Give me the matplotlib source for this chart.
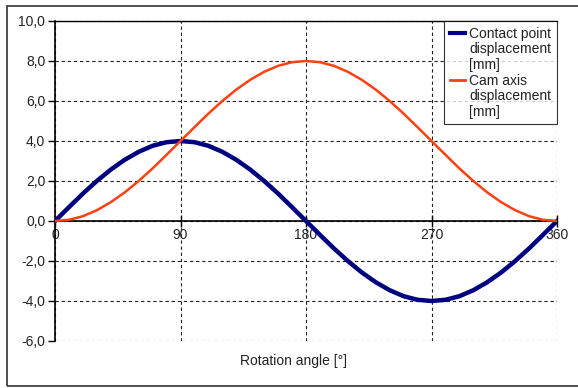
import matplotlib.pyplot as plt
import matplotlib.patches as patches
from matplotlib.lines import Line2D
from matplotlib.ticker import FuncFormatter

plt.rcParams['font.family'] = ['Liberation Sans', 'DejaVu Sans']

# rotation angle in degrees, every 10 deg
angle = list(range(0, 370, 10))

# contact point displacement [mm] (blue)
contact = [0, 0.69, 1.37, 2.0, 2.57, 3.06, 3.46, 3.76, 3.94, 4.0,
           3.94, 3.76, 3.46, 3.06, 2.57, 2.0, 1.37, 0.69, 0,
           -0.69, -1.37, -2.0, -2.57, -3.06, -3.46, -3.76, -3.94, -4.0,
           -3.94, -3.76, -3.46, -3.06, -2.57, -2.0, -1.37, -0.69, 0]

# cam axis displacement [mm] (orange)
cam = [0, 0.06, 0.24, 0.54, 0.94, 1.43, 2.0, 2.63, 3.31, 4.0,
       4.69, 5.37, 6.0, 6.57, 7.06, 7.46, 7.76, 7.94, 8.0,
       7.94, 7.76, 7.46, 7.06, 6.57, 6.0, 5.37, 4.69, 4.0,
       3.31, 2.63, 2.0, 1.43, 0.94, 0.54, 0.24, 0.06, 0]

xticks = [0, 90, 180, 270, 360]
yticks = [-6, -4, -2, 0, 2, 4, 6, 8, 10]
labels_contact = ['Contact point', 'displacement', '[mm]']
labels_cam = ['Cam axis', 'displacement', '[mm]']

fig = plt.figure(figsize=(5.78, 3.88), dpi=100)
ax = fig.add_axes([55/578, 47/388, 502/578, 320/388])

ax.plot(angle, contact, color='#000080', lw=3.2, zorder=3)
ax.plot(angle, cam, color='#ff4010', lw=1.8, zorder=3)

ax.set_xlim(0, 360)
ax.set_ylim(-6, 10)
ax.set_xticks(xticks)
ax.set_yticks(yticks)
ax.yaxis.set_major_formatter(FuncFormatter(lambda v, p: ('%.1f' % v).replace('.', ',')))

ax.grid(True, color='#222222', linestyle=(0, (3, 2.5)), linewidth=0.8)

ax.spines['bottom'].set_position(('data', 0))
ax.spines['right'].set_visible(False)
ax.spines['top'].set_linewidth(1.0)
ax.spines['left'].set_linewidth(1.2)
ax.spines['bottom'].set_linewidth(1.2)

ax.tick_params(axis='y', direction='out', length=5, width=1, labelsize=10, colors='black', pad=2)
ax.tick_params(axis='x', direction='inout', length=8, width=1, labelsize=10, pad=1)
for lab in ax.get_yticklabels() + ax.get_xticklabels():
    lab.set_color('#222222')

fig.text(294/578, 27/388, 'Rotation angle [°]', ha='center', va='center', fontsize=10, color='#222222')

# legend: handle only on the first line of each entry
blank = Line2D([], [], color='none')
handles = [Line2D([], [], color='#000080', lw=3.0), blank, blank,
           Line2D([], [], color='#ff4010', lw=2.0), blank, blank]
leg = ax.legend(handles, labels_contact + labels_cam, loc='upper right',
                bbox_to_anchor=(1.0, 1.0), borderaxespad=0,
                fontsize=10, frameon=True, fancybox=False, handlelength=1.1,
                handletextpad=0.3, labelspacing=0.12, borderpad=0.4)
leg.get_frame().set_edgecolor('black')
leg.get_frame().set_linewidth(0.8)
for t in leg.get_texts():
    t.set_color('#222222')

fig.patches.append(patches.Rectangle((7/578, 2/388), 600/578, 380/388, transform=fig.transFigure,
                                     fill=False, edgecolor='#333333', linewidth=1.2))

fig.savefig('out.png', dpi=100)
